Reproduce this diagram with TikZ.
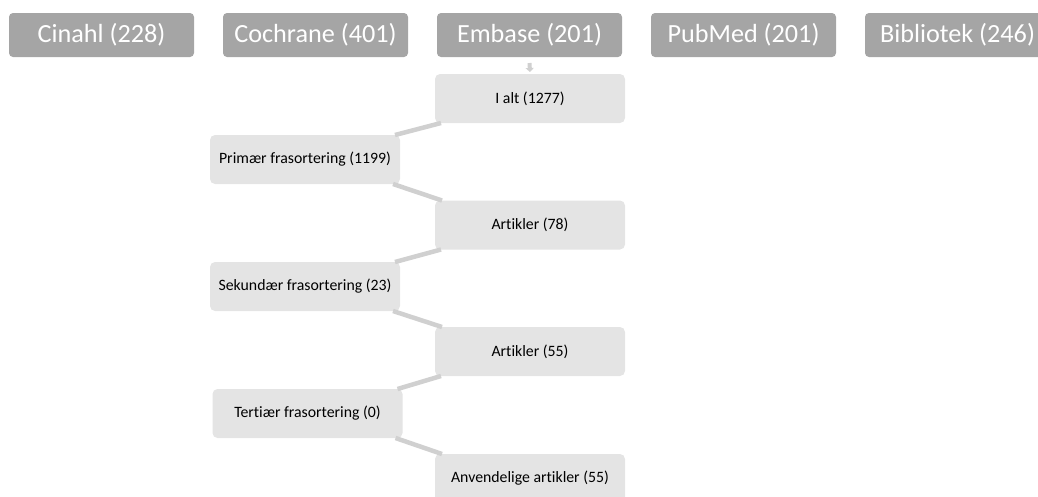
\documentclass[tikz,border=0pt]{standalone}
\usepackage{fontspec}
\setmainfont[Ligatures=NoCommon]{Carlito}
\usetikzlibrary{arrows.meta}

\definecolor{dbgray}{HTML}{A5A5A5}
\definecolor{boxgray}{HTML}{E4E4E4}
\definecolor{linkgray}{HTML}{D0D0D0}

\tikzset{
	db/.style={fill=dbgray,rounded corners=4pt,inner sep=0,outer sep=0,minimum width=185pt,minimum height=44pt,text=white,font=\fontsize{26.2}{30}\selectfont},
	stepbox/.style={fill=boxgray,rounded corners=5pt,inner sep=0,outer sep=0,minimum width=190pt,minimum height=49pt,font=\fontsize{15.8}{19}\selectfont},
	link/.style={draw=linkgray,line width=4.5pt}
}

\begin{document}
\begin{tikzpicture}[x=1pt,y=-1pt]
	\useasboundingbox (0,0) rectangle (1038,496);
	% databases
	\node[db] (d1) at (101.5,35) {Cinahl (228)};
	\node[db] (d2) at (315.5,35) {Cochrane (401)};
	\node[db] (d3) at (529.5,35) {Embase (201)};
	\node[db] (d4) at (743.5,35) {PubMed (201)};
	\node[db] (d5) at (957.5,35) {Bibliotek (246)};
	% steps
	\node[stepbox] (s1) at (530,98.5) {I alt (1277)};
	\node[stepbox] (s2) at (305,159.5) {Primær frasortering (1199)};
	\node[stepbox] (s3) at (530,225) {Artikler (78)};
	\node[stepbox] (s4) at (305,286.5) {Sekundær frasortering (23)};
	\node[stepbox] (s5) at (530,351.5) {Artikler (55)};
	\node[stepbox] (s6) at (307.5,413.5) {Tertiær frasortering (0)};
	\node[stepbox] (s7) at (530,478.5) {Anvendelige artikler (55)};
	\draw[draw=linkgray,line width=4pt,-{Triangle[width=8pt,length=4pt]}] ([yshift=-6pt]d3.south) -- ([yshift=2pt]s1.north);
	\draw[link] ([xshift=6pt]s1.south west) -- ([xshift=-5pt]s2.north east);
	\draw[link] ([xshift=-7pt]s2.south east) -- ([xshift=7pt]s3.north west);
	\draw[link] ([xshift=6pt]s3.south west) -- ([xshift=-5pt]s4.north east);
	\draw[link] ([xshift=-7pt]s4.south east) -- ([xshift=7pt]s5.north west);
	\draw[link] ([xshift=6pt]s5.south west) -- ([xshift=-5pt]s6.north east);
	\draw[link] ([xshift=-7pt]s6.south east) -- ([xshift=7pt]s7.north west);
\end{tikzpicture}
\end{document}
